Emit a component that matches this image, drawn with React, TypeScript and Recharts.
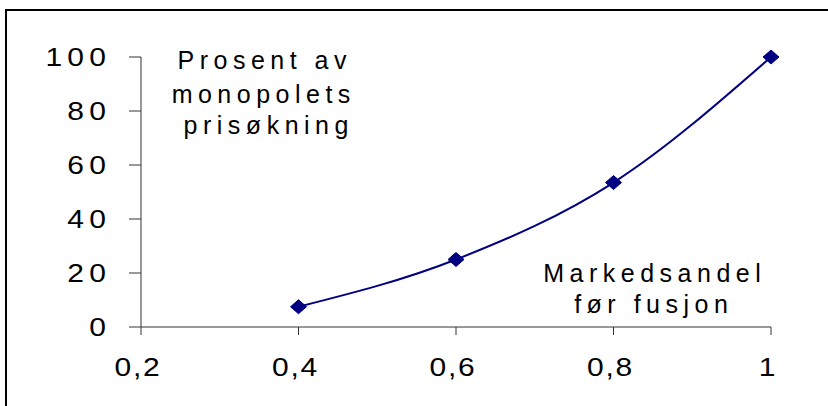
import { LineChart, Line, XAxis, YAxis } from "recharts";

const markedsandel = [0.4, 0.6, 0.8, 1];
const prisøkning = [7.5, 25, 53.5, 100];
const xTicks = [0.2, 0.4, 0.6, 0.8, 1];
const yTicks = [0, 20, 40, 60, 80, 100];
const yLabelLines = ["Prosent av", "monopolets", "prisøkning"];
const xLabelLines = ["Markedsandel", "før fusjon"];

const data = markedsandel.map((x, i) => ({ x, y: prisøkning[i] }));

const FONT = "'Liberation Sans', Arial, sans-serif";
const DIGIT_STRETCH = 1.2;
const DIGIT_SPACING = 4.4;
const SPACING = 5.5;
const NAVY = "#000080";

function YTick({ x, y, payload }: any) {
  const tx = x + DIGIT_SPACING * DIGIT_STRETCH;
  return (
    <text
      transform={`translate(${tx},${y}) scale(${DIGIT_STRETCH},1)`}
      textAnchor="end"
      dy="0.36em"
      fontSize={25}
      fontFamily={FONT}
      letterSpacing={DIGIT_SPACING}
      fill="#000"
    >
      {payload.value}
    </text>
  );
}

// x labels use a decimal comma, drawn "0 ,2" like the original
function XTick({ x, y, payload }: any) {
  const label = String(payload.value).replace(".", ",");
  return (
    <text
      transform={`translate(${x - 3},${y}) scale(${DIGIT_STRETCH},1)`}
      textAnchor="middle"
      dy="0.71em"
      fontSize={25}
      fontFamily={FONT}
      letterSpacing={1.5}
      fill="#000"
    >
      {label}
    </text>
  );
}

function Diamond({ cx, cy }: any) {
  if (cx == null || cy == null) return null;
  return (
    <polygon
      points={`${cx},${cy - 7} ${cx + 8},${cy} ${cx},${cy + 7} ${cx - 8},${cy}`}
      fill={NAVY}
      stroke={NAVY}
    />
  );
}

function TextLine({ text, cx, top }: { text: string; cx: number; top: number }) {
  return (
    <div
      style={{
        position: "absolute",
        left: cx,
        top,
        fontFamily: FONT,
        fontSize: 25,
        lineHeight: "25px",
        letterSpacing: SPACING,
        paddingLeft: SPACING,
        whiteSpace: "pre",
        color: "#000",
        transform: "translateX(-50%)",
      }}
    >
      {text}
    </div>
  );
}

export default function App() {
  return (
    <div
      style={{
        position: "fixed",
        left: 0,
        top: 0,
        width: 828,
        height: 406,
        overflow: "hidden",
        background: "#fff",
      }}
    >
      <div
        style={{
          position: "absolute",
          left: 5,
          top: 9,
          width: 1000,
          height: 1000,
          border: "2px solid #000",
        }}
      />
      <div style={{ position: "absolute", left: 0, top: 0 }}>
        <LineChart
          width={828}
          height={406}
          data={data}
          margin={{ top: 57, right: 57, bottom: 0, left: 0 }}
        >
          <XAxis
            dataKey="x"
            type="number"
            domain={[0.2, 1]}
            ticks={xTicks}
            height={79}
            tickSize={8}
            tickMargin={23}
            stroke="#333"
            tick={<XTick />}
            interval={0}
          />
          <YAxis
            type="number"
            domain={[0, 100]}
            ticks={yTicks}
            width={141}
            tickSize={12}
            tickMargin={23}
            stroke="#333"
            tick={<YTick />}
            interval={0}
          />
          <Line
            dataKey="y"
            type="monotone"
            stroke={NAVY}
            strokeWidth={2}
            dot={<Diamond />}
            activeDot={false}
            isAnimationActive={false}
          />
        </LineChart>
      </div>
      <TextLine text={yLabelLines[0]} cx={262} top={48} />
      <TextLine text={yLabelLines[1]} cx={261} top={82} />
      <TextLine text={yLabelLines[2]} cx={266} top={113} />
      <TextLine text={xLabelLines[0]} cx={652} top={261} />
      <TextLine text={xLabelLines[1]} cx={651} top={292} />
    </div>
  );
}
